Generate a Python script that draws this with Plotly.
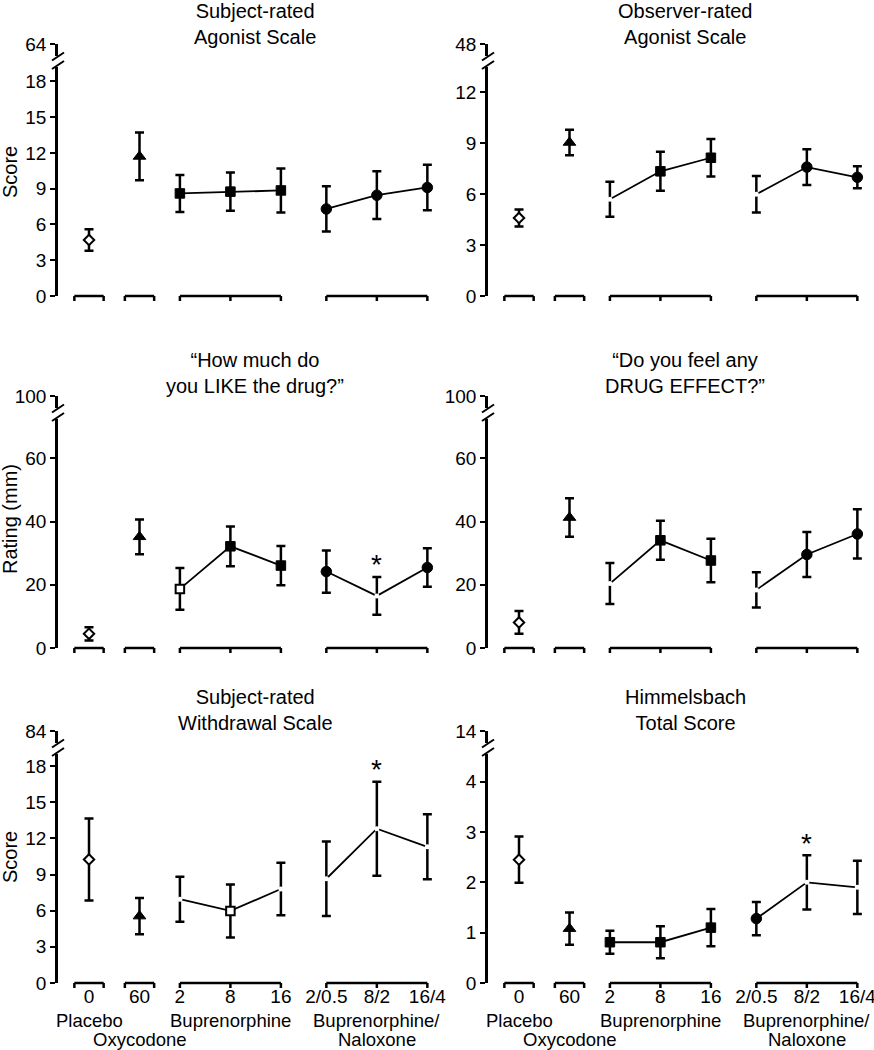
import plotly.graph_objects as go

W, H = 874, 1050
FONT = "Liberation Sans, Arial, Helvetica, sans-serif"

# ---------------- categories ----------------
dose_labels = ["0", "60", "2", "8", "16", "2/0.5", "8/2", "16/4"]
x_pos = [0, 1, 1.8, 2.8, 3.8, 4.7, 5.7, 6.7]          # category positions on the x axis
group_labels = ["Placebo", "Oxycodone", "Buprenorphine", "Buprenorphine/<br>Naloxone"]

# ---------------- data (mean, SEM, marker kind) ----------------
subj_agonist_mean = [4.7, 11.7, 8.6, 8.75, 8.85, 7.3, 8.45, 9.1]
subj_agonist_sem = [0.9, 2.0, 1.55, 1.6, 1.85, 1.9, 2.0, 1.9]
subj_agonist_mark = ["open", "filled", "filled", "filled", "filled", "filled", "filled", "filled"]

obs_agonist_mean = [4.6, 9.05, 5.7, 7.35, 8.15, 6.0, 7.6, 7.0]
obs_agonist_sem = [0.5, 0.75, 1.03, 1.15, 1.1, 1.08, 1.05, 0.65]
obs_agonist_mark = ["open", "filled", "none", "filled", "filled", "none", "filled", "filled"]

like_mean = [4.5, 35.2, 18.7, 32.2, 26.1, 24.2, 16.5, 25.5]
like_sem = [2.1, 5.5, 6.6, 6.3, 6.2, 6.7, 6.0, 6.1]
like_mark = ["open", "filled", "open", "filled", "filled", "filled", "none", "filled"]

effect_mean = [8.1, 41.3, 20.4, 34.1, 27.7, 18.4, 29.6, 36.1]
effect_sem = [3.6, 6.1, 6.5, 6.2, 6.9, 5.6, 7.1, 7.8]
effect_mark = ["open", "filled", "none", "filled", "filled", "none", "filled", "filled"]

withdrawal_mean = [10.25, 5.55, 6.95, 5.98, 7.8, 8.65, 12.8, 11.3]
withdrawal_sem = [3.4, 1.5, 1.87, 2.2, 2.17, 3.1, 3.9, 2.7]
withdrawal_mark = ["open", "filled", "none", "open", "none", "none", "none", "none"]

himmel_mean = [2.45, 1.08, 0.81, 0.81, 1.1, 1.28, 2.0, 1.9]
himmel_sem = [0.46, 0.32, 0.23, 0.32, 0.37, 0.33, 0.54, 0.53]
himmel_mark = ["open", "filled", "filled", "filled", "filled", "filled", "none", "none"]

panels = [
    dict(title="Subject-rated<br>Agonist Scale", mean=subj_agonist_mean, sem=subj_agonist_sem,
         mark=subj_agonist_mark, ytop=19.2, ticks=[0, 3, 6, 9, 12, 15, 18], brk=64, ytitle="Score", star=None),
    dict(title="Observer-rated<br>Agonist Scale", mean=obs_agonist_mean, sem=obs_agonist_sem,
         mark=obs_agonist_mark, ytop=13.5, ticks=[0, 3, 6, 9, 12], brk=48, ytitle=None, star=None),
    dict(title="\u201cHow much do<br>you LIKE the drug?\u201d", mean=like_mean, sem=like_sem,
         mark=like_mark, ytop=72.5, ticks=[0, 20, 40, 60], brk=100, ytitle="Rating (mm)", star=6),
    dict(title="\u201cDo you feel any<br>DRUG EFFECT?\u201d", mean=effect_mean, sem=effect_sem,
         mark=effect_mark, ytop=72.5, ticks=[0, 20, 40, 60], brk=100, ytitle=None, star=None),
    dict(title="Subject-rated<br>Withdrawal Scale", mean=withdrawal_mean, sem=withdrawal_sem,
         mark=withdrawal_mark, ytop=19.0, ticks=[0, 3, 6, 9, 12, 15, 18], brk=84, ytitle="Score", star=6),
    dict(title="Himmelsbach<br>Total Score", mean=himmel_mean, sem=himmel_sem,
         mark=himmel_mark, ytop=4.55, ticks=[0, 1, 2, 3, 4], brk=14, ytitle=None, star=6),
]

# ---------------- geometry (pixels) ----------------
axis_px = [58, 488]
plot_w = 382
row_zero = [296, 648, 983]
row_tick = [44, 396, 731]
ytitle_px = [172, 519, 857]
title_px = [23.5, 373.5, 710]
unit = 50.5
x_range = [-31 / unit, (plot_w - 31) / unit]


def fx(px):
    return px / W


def fy(px):
    return 1 - px / H


def style(kind, shape, base):
    if kind == "filled":
        return shape, "black", "black", 1, base
    if kind == "open":
        return shape, "white", "black", 2, base - 1
    return "circle", "white", "white", 0, 5


fig = go.Figure()
shapes, annotations = [], []
layout = {}

for i, p in enumerate(panels):
    row, col = divmod(i, 2)
    n_lo, n_up = i + 1, i + 7
    xl = "x" if n_lo == 1 else f"x{n_lo}"
    yl = "y" if n_lo == 1 else f"y{n_lo}"
    xu, yu = f"x{n_up}", f"y{n_up}"
    ax0 = axis_px[col]
    xdom = [fx(ax0), fx(ax0 + plot_w)]
    lo_top = row_tick[row] + 23
    lo_dom = [fy(row_zero[row]), fy(lo_top)]
    up_dom = [fy(row_tick[row] + 12), fy(row_tick[row])]
    lo_h = row_zero[row] - lo_top

    axis_common = dict(showgrid=False, zeroline=False, color="black",
                       tickfont=dict(size=19, family=FONT, color="black"))
    layout["xaxis" if n_lo == 1 else f"xaxis{n_lo}"] = dict(
        axis_common, domain=xdom, range=x_range, anchor=yl, showline=False,
        tickvals=x_pos, ticktext=dose_labels, showticklabels=(row == 2),
        ticks="", ticklabeloverflow="allow")
    layout["yaxis" if n_lo == 1 else f"yaxis{n_lo}"] = dict(
        axis_common, domain=lo_dom, range=[0, p["ytop"]], anchor=xl, showline=True,
        linewidth=2.5, linecolor="black", ticks="outside", ticklen=5, tickwidth=2,
        tickvals=p["ticks"])
    layout[f"xaxis{n_up}"] = dict(domain=xdom, range=x_range, anchor=yu, visible=False)
    layout[f"yaxis{n_up}"] = dict(
        axis_common, domain=up_dom, range=[p["brk"] - 1, p["brk"]], anchor=xu, showline=True,
        linewidth=2.5, linecolor="black", ticks="outside", ticklen=5, tickwidth=2,
        tickvals=[p["brk"]])
    fig.add_trace(go.Scatter(x=[None], y=[None], xaxis=xu, yaxis=yu, showlegend=False,
                             hoverinfo="skip"))

    groups = [([0], "diamond", 9), ([1], "triangle-up", 11),
              ([2, 3, 4], "square", 9.5), ([5, 6, 7], "circle", 10.5)]
    for idx, shape, base in groups:
        st = [style(p["mark"][k], shape, base) for k in idx]
        fig.add_trace(go.Scatter(
            x=[x_pos[k] for k in idx], y=[p["mean"][k] for k in idx],
            xaxis=xl, yaxis=yl, mode="lines+markers" if len(idx) > 1 else "markers",
            line=dict(color="black", width=1.8),
            marker=dict(symbol=[s[0] for s in st], color=[s[1] for s in st],
                        size=[s[4] for s in st], opacity=1,
                        line=dict(color=[s[2] for s in st], width=[s[3] for s in st])),
            error_y=dict(type="data", array=[p["sem"][k] for k in idx], visible=True,
                         color="black", thickness=2.5, width=4.5),
            showlegend=False, hoverinfo="skip"))

    # group brackets under the x axis
    tick_dn = -5 / lo_h
    bl = dict(type="line", xref=xl, yref=f"{yl} domain", line=dict(color="black", width=2.5))
    for k in (0, 1):
        a, b = x_pos[k] - 0.29, x_pos[k] + 0.29
        shapes.append(dict(bl, x0=a, x1=b, y0=0, y1=0))
        for xx in (a, b):
            shapes.append(dict(bl, x0=xx, x1=xx, y0=0, y1=tick_dn))
    for grp in ([2, 3, 4], [5, 6, 7]):
        shapes.append(dict(bl, x0=x_pos[grp[0]], x1=x_pos[grp[-1]], y0=0, y1=0))
        for k in grp:
            shapes.append(dict(bl, x0=x_pos[k], x1=x_pos[k], y0=0, y1=tick_dn))

    # axis break marks
    for cy in (row_tick[row] + 12.5, row_tick[row] + 21):
        shapes.append(dict(type="line", xref="paper", yref="paper",
                           x0=fx(ax0 - 6), x1=fx(ax0 + 6), y0=fy(cy + 4), y1=fy(cy - 4),
                           line=dict(color="black", width=2)))

    # title
    annotations.append(dict(text=p["title"], xref="paper", yref="paper", x=fx(ax0 + 197),
                            y=fy(title_px[row]), showarrow=False, xanchor="center",
                            yanchor="middle", font=dict(size=20, family=FONT, color="black")))
    if p["ytitle"]:
        annotations.append(dict(text=p["ytitle"], xref="paper", yref="paper", x=fx(10),
                                y=fy(ytitle_px[row]), showarrow=False, textangle=-90,
                                xanchor="center", yanchor="middle",
                                font=dict(size=20, family=FONT, color="black")))
    if p["star"] is not None:
        k = p["star"]
        annotations.append(dict(text="*", xref=xl, yref=yl, x=x_pos[k],
                                y=p["mean"][k] + p["sem"][k], yshift=12, showarrow=False,
                                xanchor="center", yanchor="middle",
                                font=dict(size=28, family=FONT, color="black")))
    if row == 2:
        gl = dict(xref=xl, yref=f"{yl} domain", showarrow=False, xanchor="center",
                  yanchor="middle", font=dict(size=18.5, family=FONT, color="black"))
        line1, line2 = group_labels[3].split("<br>")
        annotations.append(dict(gl, text=group_labels[0], x=x_pos[0], y=-(1020 - 983) / lo_h))
        annotations.append(dict(gl, text=group_labels[1], x=x_pos[1], y=-(1039 - 983) / lo_h))
        annotations.append(dict(gl, text=group_labels[2], x=x_pos[3], y=-(1020 - 983) / lo_h))
        annotations.append(dict(gl, text=line1, x=x_pos[6], y=-(1020 - 983) / lo_h))
        annotations.append(dict(gl, text=line2, x=x_pos[6], y=-(1039 - 983) / lo_h))

fig.update_layout(
    width=W, height=H, margin=dict(l=0, r=0, t=0, b=0, autoexpand=False),
    paper_bgcolor="white", plot_bgcolor="white",
    font=dict(family=FONT, color="black"),
    shapes=shapes, annotations=annotations, showlegend=False,
    **layout)

fig.write_html("out.html", config={"displayModeBar": False},
               post_script="document.body.style.margin='0';document.body.style.overflow='hidden';")
